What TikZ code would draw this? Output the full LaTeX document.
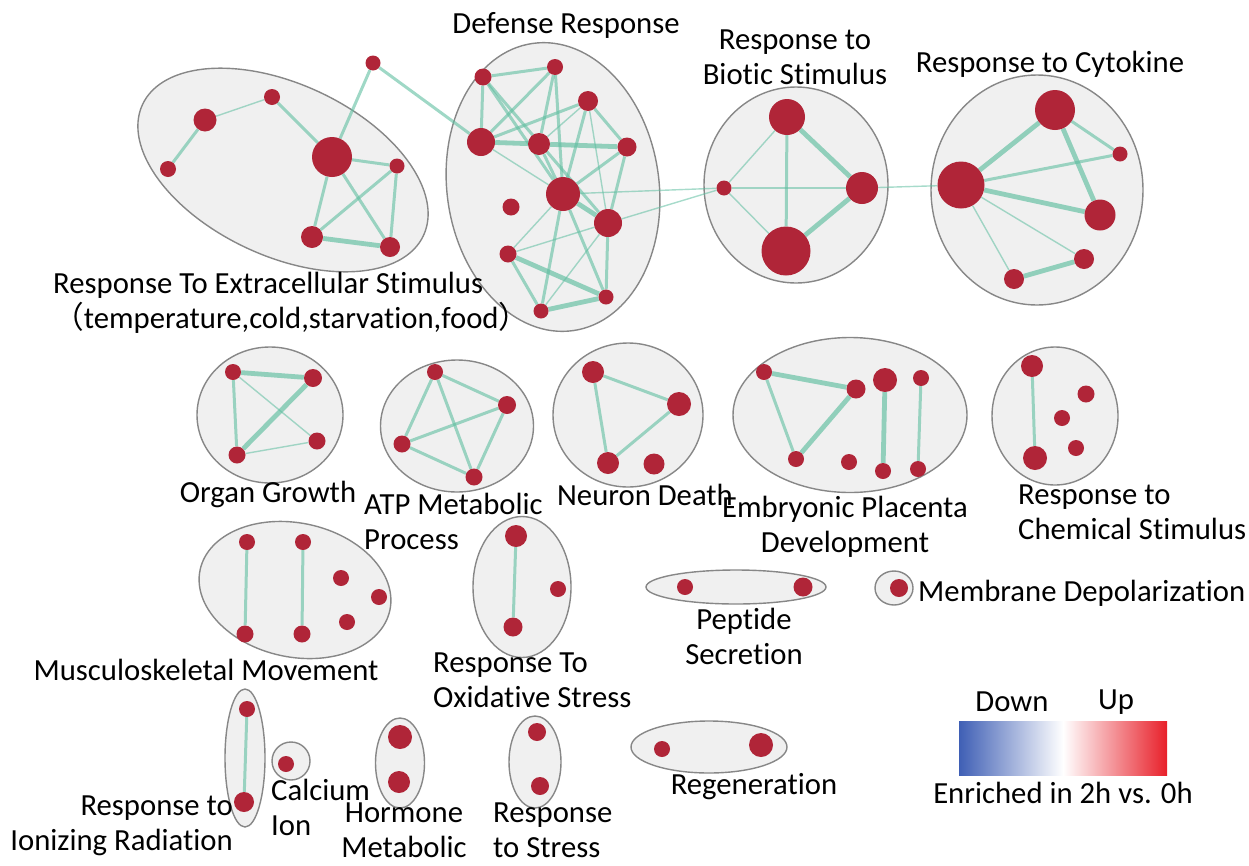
\documentclass[tikz,border=0pt]{standalone}
\usepackage{fontspec}
\setmainfont{Carlito}[Ligatures=NoCommon]
\newfontfamily\cjk{Noto Sans CJK SC}
\usetikzlibrary{shapes.geometric}
\pgfdeclarelayer{bg}
\pgfdeclarelayer{edges}
\pgfsetlayers{bg,edges,main}
\definecolor{gcol}{RGB}{176,37,56}
\definecolor{ecol}{RGB}{95,190,160}
\definecolor{clfill}{RGB}{240,240,240}
\definecolor{cldraw}{RGB}{135,135,135}
\definecolor{lblue}{RGB}{63,95,181}
\definecolor{lred}{RGB}{232,32,42}
\tikzset{
  gn/.style={circle, fill=gcol, inner sep=0pt, minimum size=#1},
  cl/.style={ellipse, draw=cldraw, fill=clfill, line width=1.4pt, inner sep=0pt},
  ethin/.style={draw=ecol, draw opacity=0.55, line width=1.4pt},
  emed/.style={draw=ecol, draw opacity=0.6, line width=3pt},
  ethick/.style={draw=ecol, draw opacity=0.65, line width=4.8pt},
  lab/.style={font=\fontsize{30.7}{35}\selectfont, inner sep=0pt, text=black}
}
\begin{document}
\begin{tikzpicture}[x=1pt,y=-1pt]
\useasboundingbox (0,0) rectangle (1249,865);

% ---------- gene nodes ----------
% Extracellular stimulus
\node[gn=15] (n1a) at (373,63) {};
\node[gn=16] (n1b) at (272,97) {};
\node[gn=23] (n1c) at (205,120) {};
\node[gn=16] (n1d) at (168,169) {};
\node[gn=40] (n1e) at (332,157) {};
\node[gn=15] (n1f) at (397,166) {};
\node[gn=22] (n1g) at (312,237) {};
\node[gn=20] (n1h) at (390,247) {};
% Defense response
\node[gn=17] (d1) at (483,77) {};
\node[gn=16] (d2) at (555,67) {};
\node[gn=20] (d3) at (588,101) {};
\node[gn=28] (d4) at (481,142) {};
\node[gn=22] (d5) at (539,144) {};
\node[gn=19] (d6) at (627,147) {};
\node[gn=34] (d7) at (563,194) {};
\node[gn=17] (d8) at (511,207) {};
\node[gn=28] (d9) at (608,223) {};
\node[gn=17] (d10) at (508,254) {};
\node[gn=15] (d11) at (606,297) {};
\node[gn=15] (d12) at (541,311) {};
% Biotic stimulus
\node[gn=15] (b1) at (724,188) {};
\node[gn=36] (b2) at (787,117) {};
\node[gn=32] (b3) at (862,188) {};
\node[gn=49] (b4) at (786,251) {};
% Cytokine
\node[gn=47] (c1) at (961,185) {};
\node[gn=40] (c2) at (1055,110) {};
\node[gn=15] (c3) at (1120,154) {};
\node[gn=31] (c4) at (1100,215) {};
\node[gn=20] (c5) at (1084,259) {};
\node[gn=20] (c6) at (1014,279) {};
% Organ growth
\node[gn=16] (o1) at (233,372) {};
\node[gn=18] (o2) at (313,378) {};
\node[gn=17] (o3) at (317,441) {};
\node[gn=17] (o4) at (237,455) {};
% ATP
\node[gn=16] (a1) at (435,372) {};
\node[gn=18] (a2) at (507,405) {};
\node[gn=17] (a3) at (402,444) {};
\node[gn=17] (a4) at (474,477) {};
% Neuron death
\node[gn=22] (ne1) at (593,372) {};
\node[gn=24] (ne2) at (679,404) {};
\node[gn=22] (ne3) at (608,463) {};
\node[gn=21] (ne4) at (654,464) {};
% Embryonic placenta
\node[gn=16] (e1) at (764,372) {};
\node[gn=19] (e2) at (856,389) {};
\node[gn=16] (e3) at (796,459) {};
\node[gn=16] (e4) at (849,462) {};
\node[gn=24] (e5) at (885,380) {};
\node[gn=16] (e6) at (921,378) {};
\node[gn=16] (e7) at (883,471) {};
\node[gn=16] (e8) at (918,469) {};
% Chemical stimulus
\node[gn=22] (ch1) at (1032,366) {};
\node[gn=17] (ch2) at (1086,394) {};
\node[gn=16] (ch3) at (1062,418) {};
\node[gn=16] (ch4) at (1076,448) {};
\node[gn=24] (ch5) at (1035,458) {};
% Musculoskeletal
\node[gn=16] (m1) at (247,542) {};
\node[gn=16] (m2) at (303,542) {};
\node[gn=16] (m3) at (341,578) {};
\node[gn=16] (m4) at (379,597) {};
\node[gn=16] (m5) at (347,622) {};
\node[gn=17] (m6) at (245,634) {};
\node[gn=17] (m7) at (302,634) {};
% Oxidative stress
\node[gn=22] (x1) at (516,536) {};
\node[gn=16] (x2) at (558,589) {};
\node[gn=19] (x3) at (513,627) {};
% Peptide secretion
\node[gn=16] (p1) at (685,587) {};
\node[gn=19] (p2) at (803,587) {};
% Membrane depolarization
\node[gn=18] (md1) at (899,588) {};
% Ionizing radiation
\node[gn=16] (i1) at (247,709) {};
\node[gn=20] (i2) at (244,802) {};
% Calcium ion
\node[gn=16] (ca1) at (286,764) {};
% Hormone metabolic
\node[gn=24] (h1) at (400,737) {};
\node[gn=22] (h2) at (399,782) {};
% Response to stress
\node[gn=18] (s1) at (537,732) {};
\node[gn=18] (s2) at (540,786) {};
% Regeneration
\node[gn=16] (r1) at (662,749) {};
\node[gn=24] (r2) at (761,745) {};

% ---------- clusters ----------
\begin{pgfonlayer}{bg}
\node[cl, minimum width=310, minimum height=172, rotate=-25] (C1) at (283,170) {};
\node[cl, minimum width=212, minimum height=290, rotate=8] (C2) at (553,187) {};
\node[cl, minimum width=184, minimum height=196] (C3) at (796,185) {};
\node[cl, minimum width=212, minimum height=230] (C4) at (1037,190) {};
\node[cl, minimum width=146, minimum height=136] (C5) at (270,415) {};
\node[cl, minimum width=153, minimum height=132] (C6) at (457,426) {};
\node[cl, minimum width=150, minimum height=144] (C7) at (628,415) {};
\node[cl, minimum width=234, minimum height=155] (C8) at (850,415) {};
\node[cl, minimum width=126, minimum height=138] (C9) at (1055,416) {};
\node[cl, minimum width=194, minimum height=134, rotate=-12] (C10) at (295,590) {};
\node[cl, minimum width=98, minimum height=141] (C11) at (522,587) {};
\node[cl, minimum width=180, minimum height=34] (C12) at (736,587) {};
\node[cl, minimum width=38, minimum height=34] (C13) at (894,588) {};
\node[cl, minimum width=40, minimum height=138] (C14) at (245,758) {};
\node[cl, minimum width=38, minimum height=38] (C15) at (291,761) {};
\node[cl, minimum width=49, minimum height=90] (C16) at (400,763) {};
\node[cl, minimum width=52, minimum height=92] (C17) at (535,762) {};
\node[cl, minimum width=156, minimum height=52] (C18) at (709,747) {};
\end{pgfonlayer}

% ---------- edges ----------
\begin{pgfonlayer}{edges}
\path[emed] (n1d) -- (n1c);
\path[ethin] (n1c) -- (n1b);
\path[emed] (n1b) -- (n1e);
\path[emed] (n1e) -- (n1a);
\path[emed] (n1a) -- (d4);
\path[emed] (n1e) -- (n1f);
\path[emed] (n1e) -- (n1g);
\path[emed] (n1e) -- (n1h);
\path[emed] (n1f) -- (n1g);
\path[emed] (n1f) -- (n1h);
\path[ethick] (n1g) -- (n1h);
% defense
\path[emed] (d1) -- (d2);
\path[emed] (d1) -- (d4);
\path[emed] (d1) -- (d7);
\path[emed] (d1) -- (d9);
\path[emed] (d2) -- (d4);
\path[emed] (d2) -- (d5);
\path[emed] (d2) -- (d7);
\path[emed] (d3) -- (d4);
\path[ethin] (d3) -- (d5);
\path[emed] (d3) -- (d6);
\path[emed] (d3) -- (d7);
\path[ethin] (d3) -- (d9);
\path[ethick] (d4) -- (d5);
\path[ethick] (d5) -- (d6);
\path[ethin] (d4) -- (d7);
\path[emed] (d5) -- (d7);
\path[emed] (d6) -- (d7);
\path[emed] (d6) -- (d9);
\path[ethick] (d7) -- (d9);
\path[ethin] (d7) -- (d10);
\path[emed] (d7) -- (d12);
\path[emed] (d7) -- (d11);
\path[ethin] (d9) -- (d10);
\path[emed] (d9) -- (d11);
\path[ethin] (d9) -- (d12);
\path[ethick] (d10) -- (d11);
\path[emed] (d10) -- (d12);
\path[ethick] (d11) -- (d12);
\path[ethin] (d7) -- (b1);
\path[ethin] (d9) -- (b1);
% biotic
\path[ethin] (b1) -- (b2);
\path[ethin] (b1) -- (b3);
\path[ethin] (b1) -- (b4);
\path[emed] (b2) -- (b4);
\path[ethick] (b2) -- (b3);
\path[ethick] (b3) -- (b4);
\path[ethin] (b3) -- (c1);
% cytokine
\path[ethick] (c1) -- (c2);
\path[emed] (c1) -- (c3);
\path[ethick] (c1) -- (c4);
\path[ethin] (c1) -- (c5);
\path[ethin] (c1) -- (c6);
\path[emed] (c2) -- (c3);
\path[ethick] (c2) -- (c4);
\path[ethick] (c5) -- (c6);
% organ growth
\path[ethick] (o1) -- (o2);
\path[emed] (o1) -- (o4);
\path[ethin] (o1) -- (o3);
\path[ethick] (o2) -- (o4);
\path[ethin] (o4) -- (o3);
% ATP
\path[emed] (a1) -- (a3);
\path[emed] (a1) -- (a2);
\path[emed] (a1) -- (a4);
\path[emed] (a3) -- (a2);
\path[emed] (a3) -- (a4);
\path[emed] (a2) -- (a4);
% neuron death
\path[emed] (ne1) -- (ne2);
\path[emed] (ne1) -- (ne3);
\path[emed] (ne2) -- (ne3);
% embryonic
\path[ethick] (e1) -- (e2);
\path[emed] (e1) -- (e3);
\path[ethick] (e2) -- (e3);
\path[ethick] (e5) -- (e7);
\path[emed] (e6) -- (e8);
% chemical
\path[emed] (ch1) -- (ch5);
% musculoskeletal
\path[emed] (m1) -- (m6);
\path[emed] (m2) -- (m7);
% oxidative
\path[emed] (x1) -- (x3);
% ionizing
\path[emed] (i1) -- (i2);
\end{pgfonlayer}

% ---------- labels ----------
\node[lab] (tDef) at (566,25) {Defense Response};
\node[lab, align=center] (tBio) at (795,57) {Response to\\Biotic Stimulus};
\node[lab] (tCyt) at (1050,64) {Response to Cytokine};
\node[lab, align=left, anchor=west] (tExt) at (53,303) {Response To Extracellular Stimulus\\{\cjk （}temperature,cold,starvation,food{\cjk ）}};
\node[lab] (tOrg) at (268,494) {Organ Growth};
\node[lab, align=left, anchor=west] (tATP) at (364,521) {ATP Metabolic\\Process};
\node[lab] (tNeu) at (645,495) {Neuron Death};
\node[lab, align=center] (tEmb) at (845,527) {Embryonic Placenta\\Development};
\node[lab, align=left, anchor=west] (tChe) at (1018,512) {Response to\\Chemical Stimulus};
\node[lab] (tMus) at (206,670) {Musculoskeletal Movement};
\node[lab, align=left, anchor=west] (tOxi) at (433,680) {Response To\\Oxidative Stress};
\node[lab, align=center] (tPep) at (744,636) {Peptide\\Secretion};
\node[lab, anchor=west] (tMem) at (918,593) {Membrane Depolarization};
\node[lab, align=right, anchor=east] (tIon) at (233,826) {Response to\\Ionizing Radiation};
\node[lab, align=left, anchor=west] (tCal) at (271,807) {Calcium\\Ion};
\node[lab, align=center] (tHor) at (404,830) {Hormone\\Metabolic};
\node[lab, align=left, anchor=west] (tStr) at (493,830) {Response\\to Stress};
\node[lab] (tReg) at (754,787) {Regeneration};

% ---------- legend ----------
\node[inner sep=0pt, minimum width=208, minimum height=54, left color=lblue, right color=lred, middle color=white] (bar) at (1063,748) {};
\node[lab] (tDown) at (1012,702) {Down};
\node[lab] (tUp) at (1116,702) {Up};
\node[lab] (tEnr) at (1063,793) {Enriched in 2h vs. 0h};
\end{tikzpicture}
\end{document}
